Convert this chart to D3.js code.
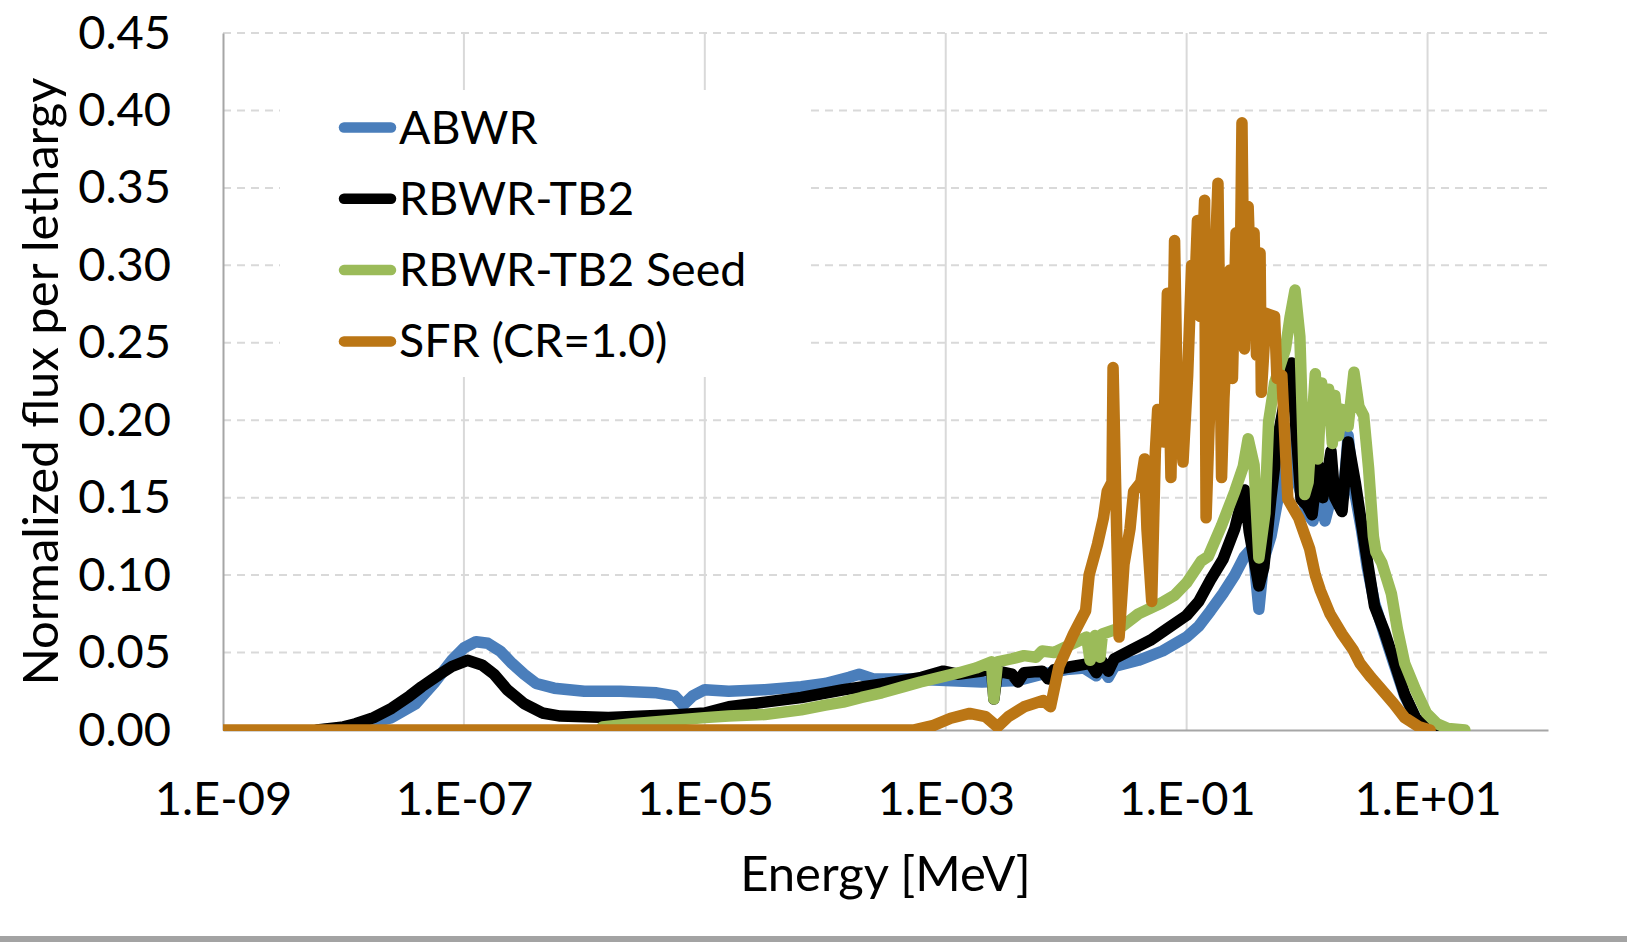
<!DOCTYPE html>
<html>
<head>
<meta charset="utf-8">
<script src="https://cdn.jsdelivr.net/npm/d3@7"></script>
<style>
  html, body { margin: 0; padding: 0; background: #fff; }
  svg { display: block; font-family: Lato, "Open Sans", sans-serif; }
</style>
</head>
<body>
<div id="chart"></div>
<script>
// Series names and colours (legend order = drawing order)
const seriesNames = ["ABWR", "RBWR-TB2", "RBWR-TB2 Seed", "SFR (CR=1.0)"];
const seriesColors = ["#4a7ebb", "#000000", "#9bbb59", "#bb7615"];

// Axis ticks
const xTicks = [1e-9, 1e-7, 1e-5, 1e-3, 1e-1, 1e1];
const yTicks = [0, 0.05, 0.1, 0.15, 0.2, 0.25, 0.3, 0.35, 0.4, 0.45];

// ABWR: energy [MeV] and normalized flux per lethargy
const abwrE = [6.3e-9, 1.26e-8, 2.51e-8, 3.98e-8, 5.62e-8, 7.94e-8, 1.0e-7, 1.26e-7, 1.58e-7, 2.0e-7,
  2.51e-7, 3.16e-7, 3.98e-7, 5.62e-7, 1.0e-6, 2.0e-6, 3.98e-6, 5.62e-6, 6.61e-6, 7.94e-6,
  1.0e-5, 1.58e-5, 3.16e-5, 6.31e-5, 1.0e-4, 1.58e-4, 1.91e-4, 2.51e-4, 5.01e-4, 1.0e-3,
  2.0e-3, 3.98e-3, 6.31e-3, 1.0e-2, 1.41e-2, 1.78e-2, 2.0e-2, 2.24e-2, 2.51e-2, 3.98e-2,
  6.31e-2, 0.1, 0.126, 0.158, 0.2, 0.251, 0.302, 0.355, 0.398, 0.437,
  0.501, 0.575, 0.692, 0.759, 0.832, 1.0, 1.12, 1.26, 1.41, 1.58,
  1.78, 2.0, 2.19, 2.4, 2.82, 3.16, 3.63, 4.37, 5.25, 6.46,
  7.94, 9.77, 11.2];
const abwrFlux = [0.0, 0.002, 0.008, 0.017, 0.030, 0.045, 0.053, 0.057, 0.056, 0.051,
  0.043, 0.036, 0.030, 0.027, 0.025, 0.025, 0.024, 0.022, 0.016, 0.022,
  0.026, 0.025, 0.026, 0.028, 0.030, 0.034, 0.036, 0.033, 0.033, 0.032,
  0.031, 0.032, 0.036, 0.039, 0.040, 0.035, 0.040, 0.034, 0.041, 0.045,
  0.051, 0.060, 0.067, 0.077, 0.088, 0.100, 0.112, 0.118, 0.078, 0.110,
  0.125, 0.150, 0.190, 0.195, 0.160, 0.140, 0.135, 0.155, 0.135, 0.150,
  0.158, 0.150, 0.190, 0.160, 0.130, 0.105, 0.082, 0.062, 0.043, 0.022,
  0.008, 0.002, 0.0];

// RBWR-TB2
const rbwrE = [6.03e-9, 1.0e-8, 1.26e-8, 1.78e-8, 2.51e-8, 3.55e-8, 4.47e-8, 6.31e-8, 7.94e-8, 1.07e-7,
  1.41e-7, 1.78e-7, 2.29e-7, 3.16e-7, 4.47e-7, 6.31e-7, 1.58e-6, 3.16e-6, 6.31e-6, 1.0e-5,
  1.58e-5, 3.16e-5, 6.31e-5, 1.41e-4, 3.16e-4, 6.31e-4, 9.55e-4, 1.26e-3, 2.0e-3, 2.4e-3,
  2.51e-3, 2.69e-3, 3.55e-3, 3.98e-3, 4.47e-3, 6.31e-3, 7.08e-3, 7.94e-3, 1.12e-2, 1.58e-2,
  1.78e-2, 2.0e-2, 2.24e-2, 2.51e-2, 3.55e-2, 5.01e-2, 7.08e-2, 0.1, 0.126, 0.158,
  0.2, 0.251, 0.302, 0.331, 0.398, 0.437, 0.501, 0.575, 0.661, 0.741,
  0.813, 0.891, 1.0, 1.1, 1.23, 1.35, 1.51, 1.58, 1.7, 1.95,
  2.19, 2.51, 2.82, 3.24, 3.63, 4.37, 5.25, 6.46, 7.94, 9.77,
  11.2];
const rbwrFlux = [0.0, 0.002, 0.004, 0.008, 0.014, 0.022, 0.028, 0.036, 0.041, 0.045,
  0.042, 0.036, 0.026, 0.017, 0.011, 0.009, 0.008, 0.009, 0.010, 0.011,
  0.015, 0.018, 0.021, 0.026, 0.030, 0.034, 0.038, 0.036, 0.038, 0.040,
  0.020, 0.038, 0.036, 0.031, 0.037, 0.038, 0.033, 0.039, 0.041, 0.043,
  0.037, 0.044, 0.038, 0.046, 0.052, 0.058, 0.066, 0.074, 0.083, 0.097,
  0.110, 0.130, 0.155, 0.128, 0.093, 0.105, 0.150, 0.190, 0.215, 0.237,
  0.192, 0.149, 0.145, 0.139, 0.171, 0.150, 0.170, 0.180, 0.150, 0.141,
  0.186, 0.160, 0.134, 0.104, 0.080, 0.064, 0.045, 0.023, 0.008, 0.002,
  0.0];

// RBWR-TB2 Seed
const seedE = [1.41e-6, 2.51e-6, 5.01e-6, 1.0e-5, 1.58e-5, 3.16e-5, 6.31e-5, 1.0e-4, 1.41e-4, 2.0e-4,
  2.95e-4, 4.47e-4, 6.17e-4, 8.91e-4, 1.29e-3, 1.78e-3, 2.4e-3, 2.51e-3, 2.69e-3, 3.55e-3,
  4.47e-3, 5.62e-3, 6.31e-3, 7.94e-3, 1.15e-2, 1.48e-2, 1.58e-2, 1.74e-2, 1.91e-2, 2.0e-2,
  2.82e-2, 3.98e-2, 6.17e-2, 7.94e-2, 0.1, 0.132, 0.151, 0.195, 0.251, 0.295,
  0.324, 0.363, 0.398, 0.447, 0.479, 0.537, 0.661, 0.724, 0.794, 0.871,
  0.955, 1.02, 1.17, 1.23, 1.32, 1.41, 1.51, 1.62, 1.7, 1.82,
  1.95, 2.19, 2.45, 2.69, 2.95, 3.24, 3.55, 3.72, 4.17, 5.01,
  5.62, 6.46, 7.94, 9.77, 12.0, 14.8, 20.4];
const seedFlux = [0.002, 0.004, 0.006, 0.008, 0.009, 0.010, 0.013, 0.016, 0.018, 0.021,
  0.024, 0.028, 0.031, 0.034, 0.037, 0.040, 0.044, 0.020, 0.044, 0.046,
  0.048, 0.047, 0.051, 0.050, 0.056, 0.060, 0.045, 0.061, 0.047, 0.062,
  0.066, 0.075, 0.082, 0.087, 0.095, 0.109, 0.112, 0.132, 0.154, 0.170,
  0.188, 0.171, 0.111, 0.140, 0.199, 0.224, 0.246, 0.267, 0.284, 0.254,
  0.152, 0.160, 0.230, 0.175, 0.224, 0.200, 0.220, 0.185, 0.216, 0.190,
  0.207, 0.196, 0.231, 0.209, 0.203, 0.169, 0.125, 0.115, 0.108, 0.088,
  0.065, 0.043, 0.026, 0.011, 0.004, 0.001, 0.0];

// SFR (CR=1.0)
const sfrE = [1e-9, 5.37e-4, 7.94e-4, 1.1e-3, 1.58e-3, 2.14e-3, 2.69e-3, 3.31e-3, 4.47e-3, 6.46e-3,
  7.41e-3, 8.71e-3, 1.15e-2, 1.45e-2, 1.55e-2, 1.82e-2, 2.04e-2, 2.19e-2, 2.4e-2, 2.45e-2,
  2.57e-2, 2.75e-2, 3.02e-2, 3.39e-2, 3.63e-2, 4.17e-2, 4.47e-2, 4.68e-2, 5.13e-2, 5.5e-2,
  5.75e-2, 6.46e-2, 6.92e-2, 7.41e-2, 7.94e-2, 8.32e-2, 9.33e-2, 0.102, 0.11, 0.115,
  0.123, 0.129, 0.141, 0.145, 0.158, 0.182, 0.195, 0.204, 0.229, 0.24,
  0.257, 0.275, 0.288, 0.302, 0.324, 0.347, 0.363, 0.38, 0.407, 0.417,
  0.457, 0.537, 0.562, 0.617, 0.692, 0.851, 1.05, 1.17, 1.29, 1.55,
  1.95, 2.4, 2.75, 3.39, 4.17, 5.25, 6.46, 8.51, 10.5];
const sfrFlux = [0.0, 0.0, 0.003, 0.0076, 0.0107, 0.0086, 0.002, 0.0086, 0.015, 0.019,
  0.015, 0.041, 0.062, 0.077, 0.100, 0.120, 0.137, 0.154, 0.160, 0.234,
  0.160, 0.060, 0.107, 0.130, 0.154, 0.160, 0.175, 0.130, 0.083, 0.180,
  0.207, 0.186, 0.282, 0.163, 0.316, 0.224, 0.173, 0.229, 0.300, 0.269,
  0.329, 0.267, 0.342, 0.137, 0.224, 0.353, 0.163, 0.214, 0.297, 0.227,
  0.321, 0.254, 0.392, 0.246, 0.338, 0.267, 0.321, 0.242, 0.308, 0.218,
  0.269, 0.267, 0.227, 0.229, 0.149, 0.137, 0.117, 0.100, 0.090, 0.075,
  0.062, 0.052, 0.043, 0.034, 0.026, 0.017, 0.008, 0.002, 0.0];

const seriesE = [abwrE, rbwrE, seedE, sfrE];
const seriesFlux = [abwrFlux, rbwrFlux, seedFlux, sfrFlux];

const width = 1627, height = 942;
const plot = { left: 223, right: 1548, top: 33, bottom: 730 };

const svg = d3
  .select("#chart")
  .append("svg")
  .attr("width", width)
  .attr("height", height);

const x = d3.scaleLog().domain([1e-9, 1e2]).range([plot.left, plot.right]);
const y = d3.scaleLinear().domain([0, 0.45]).range([plot.bottom, plot.top]);

// Gridlines
svg
  .append("g")
  .selectAll("line")
  .data(yTicks.slice(1))
  .enter()
  .append("line")
  .attr("x1", plot.left)
  .attr("x2", plot.right)
  .attr("y1", (d) => y(d))
  .attr("y2", (d) => y(d))
  .attr("stroke", "#d9d9d9")
  .attr("stroke-width", 2)
  .attr("stroke-dasharray", "8,6");

svg
  .append("g")
  .selectAll("line")
  .data(xTicks.slice(1))
  .enter()
  .append("line")
  .attr("x1", (d) => x(d))
  .attr("x2", (d) => x(d))
  .attr("y1", plot.top)
  .attr("y2", plot.bottom)
  .attr("stroke", "#d9d9d9")
  .attr("stroke-width", 2);

// Axes (no tick marks, just the lines and labels)
const fmtE = (d) => {
  const p = Math.round(Math.log10(d));
  return "1.E" + (p < 0 ? "-" : "+") + String(Math.abs(p)).padStart(2, "0");
};

const xAxis = svg
  .append("g")
  .attr("transform", `translate(0,${plot.bottom})`)
  .call(d3.axisBottom(x).tickValues(xTicks).tickFormat(fmtE).tickSize(0).tickPadding(52));
xAxis.select(".domain").attr("stroke", "#a6a6a6").attr("stroke-width", 2);
xAxis.selectAll("text").attr("font-size", 47).attr("font-family", "Lato").attr("fill", "#000");

const yAxis = svg
  .append("g")
  .attr("transform", `translate(${plot.left},0)`)
  .call(d3.axisLeft(y).tickValues(yTicks).tickFormat(d3.format(".2f")).tickSize(0).tickPadding(52));
yAxis.select(".domain").attr("stroke", "#a6a6a6").attr("stroke-width", 2);
yAxis.selectAll("text").attr("font-size", 47).attr("font-family", "Lato").attr("fill", "#000");

// Series lines
svg
  .append("clipPath")
  .attr("id", "plot-clip")
  .append("rect")
  .attr("x", plot.left)
  .attr("y", 0)
  .attr("width", plot.right - plot.left)
  .attr("height", plot.bottom + 1);

const line = d3
  .line()
  .x((d) => x(d[0]))
  .y((d) => y(d[1]));

const lines = svg.append("g").attr("clip-path", "url(#plot-clip)");
seriesNames.forEach((name, i) => {
  const pts = seriesE[i].map((e, j) => [e, seriesFlux[i][j]]);
  lines
    .append("path")
    .datum(pts)
    .attr("d", line)
    .attr("fill", "none")
    .attr("stroke", seriesColors[i])
    .attr("stroke-width", 11.5)
    .attr("stroke-linejoin", "round")
    .attr("stroke-linecap", "round");
});

// Legend on a white box
const legend = svg.append("g");
legend
  .append("rect")
  .attr("x", 280)
  .attr("y", 90)
  .attr("width", 529)
  .attr("height", 287)
  .attr("fill", "#fff");

const items = legend
  .selectAll("g")
  .data(seriesNames)
  .enter()
  .append("g")
  .attr("transform", (d, i) => `translate(0,${127.5 + i * 71.3})`);
items
  .append("line")
  .attr("x1", 344)
  .attr("x2", 391)
  .attr("stroke", (d, i) => seriesColors[i])
  .attr("stroke-width", 10.5)
  .attr("stroke-linecap", "round");
items
  .append("text")
  .attr("x", 399)
  .attr("y", 16)
  .attr("font-size", 46.5)
  .text((d) => d);

// Axis titles
svg
  .append("text")
  .attr("x", (plot.left + plot.right) / 2)
  .attr("y", 891)
  .attr("text-anchor", "middle")
  .attr("font-size", 49)
  .text("Energy [MeV]");

svg
  .append("text")
  .attr("transform", `translate(58,${(plot.top + plot.bottom) / 2}) rotate(-90)`)
  .attr("text-anchor", "middle")
  .attr("font-size", 49)
  .text("Normalized flux per lethargy");

// Grey strip along the bottom edge
svg
  .append("rect")
  .attr("x", 0)
  .attr("y", 936)
  .attr("width", width)
  .attr("height", 6)
  .attr("fill", "#a3a3a3");
</script>
</body>
</html>
